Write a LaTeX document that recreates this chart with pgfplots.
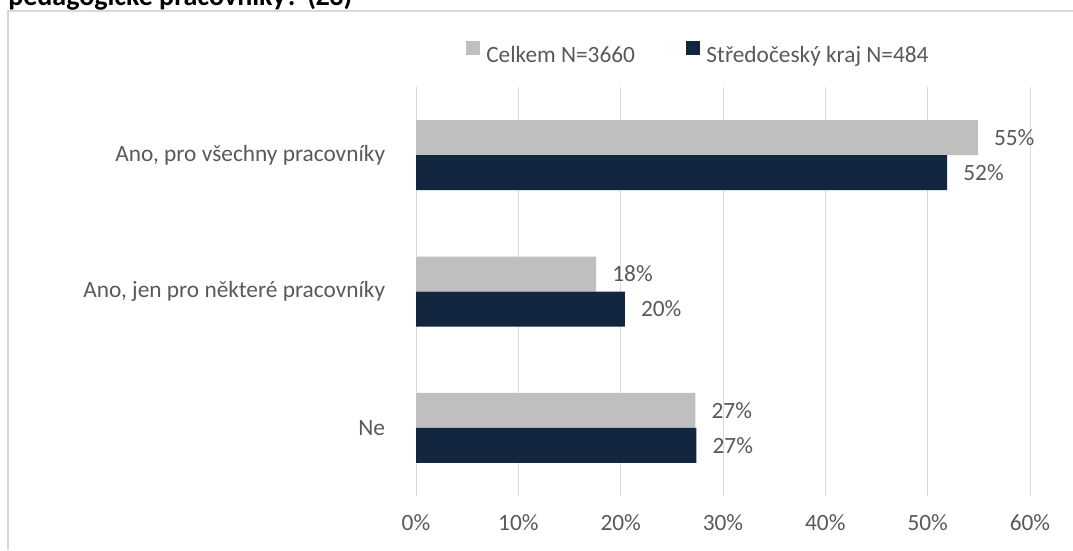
\documentclass[border=0pt]{standalone}
\usepackage{pgfplots}
\pgfplotsset{compat=1.18}
\usepackage{fontspec}
\setmainfont{Carlito}
\definecolor{cgray}{HTML}{BFBFBF}
\definecolor{cnavy}{HTML}{13263F}
\definecolor{ctext}{HTML}{595959}
\definecolor{cgrid}{HTML}{D9D9D9}
\begin{document}
\begin{tikzpicture}[x=0.75pt,y=0.75pt]
\useasboundingbox (0,0) rectangle (1073,550);
\draw[cgrid, line width=1pt] (8,0) -- (8,539) -- (1073,539);
\node[anchor=base west, inner sep=0pt, font=\fontsize{21}{25}\selectfont\bfseries] at (8,544) {pedagogické pracovníky? (Z3)};
\begin{axis}[
  at={(312pt,40.5pt)}, anchor=south west,
  scale only axis, width=460.5pt, height=306.75pt,
  xmin=0, xmax=60, ymin=-0.5, ymax=2.5,
  xbar, bar width=26.25pt,
  clip=false,
  xtick={0,10,...,60},
  xticklabels={0\%,10\%,20\%,30\%,40\%,50\%,60\%},
  ytick={0,1,2},
  yticklabels={Ne,{Ano, jen pro některé pracovníky},{Ano, pro všechny pracovníky}},
  xmajorgrids, major grid style={cgrid, line width=0.75pt},
  axis line style={draw=none}, tick style={draw=none}, major tick length=0pt,
  ticklabel style={font=\fontsize{17.5}{20}\selectfont, text=ctext},
  xticklabel style={inner sep=0pt, anchor=north, yshift=-14pt},
  yticklabel style={inner sep=0pt, anchor=east, xshift=-23pt},
  /pgf/number format/assume math mode=true,
  point meta=x,
  nodes near coords={\pgfmathprintnumber[fixed,precision=0]{\pgfplotspointmeta}\%},
  nodes near coords style={font=\fontsize{17.5}{20}\selectfont, text=ctext, anchor=west, inner sep=0pt, xshift=12pt},
  legend columns=2,
  legend style={at={(axis description cs:0.0814,1.084)}, anchor=west,
    draw=none, fill=none, inner sep=0pt, row sep=0pt,
    font=\fontsize{17.5}{20}\selectfont, text=ctext,
    nodes={inner sep=0pt},
    /tikz/every odd column/.append style={column sep=4.5pt},
    /tikz/every even column/.append style={column sep=38.6pt}},
]
\addplot[fill=cgray, draw=none, bar shift=13.125pt,
  legend image code/.code={\fill[cgray] (0pt,0.3pt) rectangle (10.5pt,10.8pt);}]
  coordinates {(54.9,2) (17.6,1) (27.3,0)};
\addplot[fill=cnavy, draw=none, bar shift=-13.125pt,
  legend image code/.code={\fill[cnavy] (0pt,0.3pt) rectangle (10.5pt,10.8pt);}]
  coordinates {(51.9,2) (20.4,1) (27.4,0)};
\legend{Celkem N=3660, Středočeský kraj N=484}
\end{axis}
\end{tikzpicture}
\end{document}
